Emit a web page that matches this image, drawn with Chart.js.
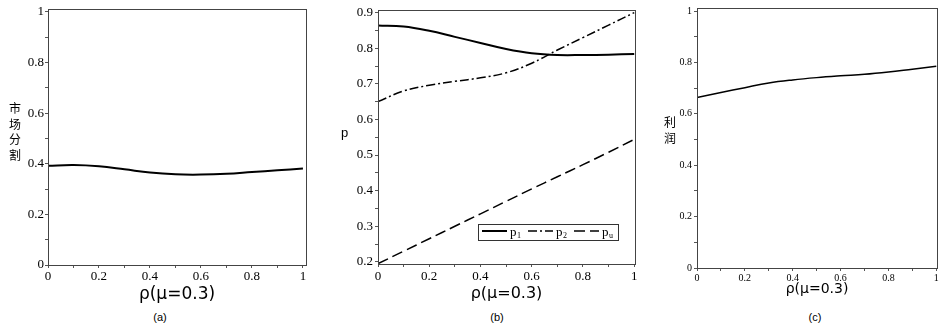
<!DOCTYPE html>
<html>
<head>
<meta charset="utf-8">
<script src="https://cdn.jsdelivr.net/npm/chart.js@4.4.0/dist/chart.umd.min.js"></script>
<style>
body{margin:0;background:#fff;width:942px;height:325px;position:relative;overflow:hidden}
canvas{position:absolute;top:0}
.lab{position:absolute;font-family:"Noto Sans CJK SC";font-size:12px;color:#000;line-height:15.5px;text-align:center}
.cap{position:absolute;font-family:"Liberation Sans";font-size:11px;top:311px;width:30px;text-align:center;color:#000}
</style>
</head>
<body>
<canvas id="chartA" width="316" height="310" style="left:0"></canvas>
<canvas id="chartB" width="322" height="310" style="left:322px"></canvas>
<canvas id="chartC" width="292" height="310" style="left:650px"></canvas>
<div class="lab" style="left:9px;top:100px">市<br>场<br>分<br>割</div>
<div class="lab" style="left:341px;top:125px;font-family:'Liberation Sans';font-size:13px">p</div>
<div class="lab" style="left:664px;top:114px;line-height:16px">利<br>润</div>
<div class="cap" style="left:145px">(a)</div>
<div class="cap" style="left:482px">(b)</div>
<div class="cap" style="left:800px">(c)</div>
<script>
const rho = [0, 0.1, 0.2, 0.3, 0.4, 0.5, 0.6, 0.7, 0.8, 0.9, 1];
// (a) market share
const marketShare = [0.392, 0.395, 0.390, 0.378, 0.365, 0.358, 0.357, 0.360, 0.367, 0.374, 0.381];
// (b) prices
const p1 = [0.864, 0.861, 0.849, 0.832, 0.815, 0.798, 0.786, 0.781, 0.781, 0.782, 0.784];
const p2 = [0.650, 0.680, 0.696, 0.707, 0.717, 0.731, 0.758, 0.795, 0.830, 0.865, 0.900];
const pu = [0.195, 0.230, 0.265, 0.300, 0.335, 0.370, 0.405, 0.439, 0.473, 0.508, 0.544];
// (c) profit
const profit = [0.664, 0.683, 0.702, 0.720, 0.732, 0.741, 0.748, 0.754, 0.763, 0.774, 0.785];

const xTitle = 'ρ(μ=0.3)';

const pts = arr => rho.map((x, i) => ({x: x, y: arr[i]}));

// show a label only on multiples of "every"
const every = step => v => {
  const k = v / step;
  return Math.abs(k - Math.round(k)) < 1e-6 ? String(+v.toFixed(2)) : '';
};

const boxBorder = {
  id: 'boxBorder',
  afterDraw(chart) {
    const a = chart.chartArea, ctx = chart.ctx;
    ctx.save();
    ctx.strokeStyle = '#444';
    ctx.lineWidth = 1;
    ctx.strokeRect(Math.round(a.left) + 0.5, Math.round(a.top) + 0.5, Math.round(a.right - a.left), Math.round(a.bottom - a.top));
    ctx.restore();
  }
};

//legend drawn inside panel (b)
const legendBox = {
  id: 'legendBox',
  afterDraw(chart) {
    const ctx = chart.ctx;
    ctx.save();
    ctx.strokeStyle = '#333';
    ctx.lineWidth = 1;
    ctx.strokeRect(156.5, 224.5, 140, 16);
    chart.data.datasets.forEach((ds, i) => {
      const x = 160 + i * 46;
      ctx.beginPath();
      ctx.setLineDash(ds.borderDash || []);
      ctx.lineWidth = ds.borderWidth;
      ctx.strokeStyle = ds.borderColor;
      ctx.moveTo(x, 231);
      ctx.lineTo(x + 25, 231);
      ctx.stroke();
      ctx.setLineDash([]);
      ctx.fillStyle = '#000';
      ctx.font = '13px "Liberation Serif"';
      ctx.fillText(ds.label[0], x + 28, 236);
      ctx.font = '8px "Liberation Serif"';
      ctx.fillText(ds.label.slice(1), x + 35, 238);
    });
    ctx.restore();
  }
};

function line(label, arr, width, dash) {
  return {
    label: label,
    data: pts(arr),
    borderColor: '#000',
    borderWidth: width,
    borderDash: dash,
    pointRadius: 0,
    fill: false,
    tension: 0.4
  };
}

function scales(o) {
  return {
    x: {
      type: 'linear', min: 0, max: o.xMax,
      afterFit: s => { s.height = o.xH; },
      border: {display: false},
      grid: {drawOnChartArea: false, tickLength: 3, color: '#555'},
      ticks: {stepSize: 0.1, includeBounds: false, autoSkip: false, maxRotation: 0,
              padding: o.xPad, color: '#000', callback: every(0.2),
              font: {family: 'Liberation Serif', size: o.tick}},
      title: {display: true, text: xTitle, color: '#000',
              font: {family: 'DejaVu Sans', size: o.titleSize},
              padding: {top: 0, bottom: o.titlePad}}
    },
    y: {
      type: 'linear', min: o.yMin, max: o.yMax,
      afterFit: s => { s.width = o.yW; },
      border: {display: false},
      grid: {drawOnChartArea: false, tickLength: 3, color: '#555'},
      ticks: {stepSize: o.yStep, includeBounds: false, autoSkip: false,
              padding: o.yPad, color: '#000', callback: every(o.yLabel),
              font: {family: 'Liberation Serif', size: o.tick}}
    }
  };
}

function options(o, top, right) {
  return {
    responsive: false,
    animation: false,
    layout: {padding: {top: top, right: right, left: 0, bottom: 0}},
    plugins: {legend: {display: false}, tooltip: {enabled: false}},
    scales: scales(o)
  };
}

const config_a = {
  type: 'line',
  data: {datasets: [line('share', marketShare, 2)]},
  options: options({xMax: 1.012, xH: 45, xPad: 1, tick: 13, titleSize: 17, titlePad: 5,
                    yMin: 0, yMax: 1.012, yW: 48, yStep: 0.1, yLabel: 0.2, yPad: 1}, 6, 10),
  plugins: [boxBorder]
};

const config_b = {
  type: 'line',
  data: {datasets: [
    line('p1', p1, 2),
    line('p2', p2, 1.5, [9, 3, 2, 3]),
    line('pu', pu, 1.5, [11, 5])
  ]},
  options: options({xMax: 1.003, xH: 46, xPad: 2, tick: 13, titleSize: 16, titlePad: 7,
                    yMin: 0.194, yMax: 0.908, yW: 56, yStep: 0.05, yLabel: 0.1, yPad: 2}, 7, 9),
  plugins: [boxBorder, legendBox]
};

const config_c = {
  type: 'line',
  data: {datasets: [line('profit', profit, 1.5)]},
  options: options({xMax: 1.003, xH: 42, xPad: 1, tick: 10, titleSize: 14, titlePad: 12,
                    yMin: 0, yMax: 1.012, yW: 47, yStep: 0.1, yLabel: 0.2, yPad: 2}, 7, 5),
  plugins: [boxBorder]
};

const chartA = new Chart(document.getElementById('chartA'), config_a);
const chartB = new Chart(document.getElementById('chartB'), config_b);
const chartC = new Chart(document.getElementById('chartC'), config_c);
</script>
</body>
</html>
